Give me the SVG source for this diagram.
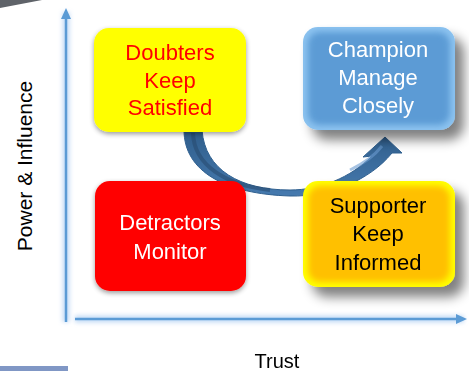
<svg xmlns="http://www.w3.org/2000/svg" width="469" height="371" viewBox="0 0 469 371">
<style>
.lbl{font-family:"Liberation Sans",Arial,sans-serif;font-size:22px;text-anchor:middle}
.axl{font-family:"Liberation Sans",Arial,sans-serif;font-size:20px;fill:#000;text-anchor:middle}
.axis{stroke:#5b9bd5;stroke-width:2.5;fill:none}
.glow{stroke:#a9cdf2;stroke-width:7;fill:none;opacity:0.7}
</style>
<defs>
<filter id="bigShadow" x="-20%" y="-20%" width="150%" height="160%">
<feGaussianBlur in="SourceAlpha" stdDeviation="6"/>
<feOffset dx="9" dy="10" result="b"/>
<feComponentTransfer><feFuncA type="linear" slope="0.5"/></feComponentTransfer>
<feMerge><feMergeNode/><feMergeNode in="SourceGraphic"/></feMerge>
</filter>
<filter id="smallShadow" x="-10%" y="-10%" width="125%" height="130%">
<feGaussianBlur in="SourceAlpha" stdDeviation="2.5"/>
<feOffset dx="0" dy="2" result="b"/>
<feComponentTransfer><feFuncA type="linear" slope="0.4"/></feComponentTransfer>
<feMerge><feMergeNode/><feMergeNode in="SourceGraphic"/></feMerge>
</filter>
<filter id="soft" x="-10%" y="-10%" width="120%" height="120%">
<feGaussianBlur stdDeviation="3"/>
</filter>
<filter id="blur2" x="-10%" y="-10%" width="120%" height="120%">
<feGaussianBlur stdDeviation="2"/>
</filter>
<linearGradient id="arrowGrad" x1="0" y1="0" x2="0" y2="1">
<stop offset="0" stop-color="#2f5d8a"/>
<stop offset="1" stop-color="#467aaf"/>
</linearGradient>
</defs>
<rect width="469" height="371" fill="#ffffff"/>
<polygon points="0,0 42,0 0,8" fill="#5f6369"/>
<rect x="0" y="366" width="68" height="5" fill="#8097c5"/>

<g id="connectors">
<g id="axes" filter="url(#blur2)">
<line class="glow" x1="66" y1="322" x2="66" y2="12"/>
<line class="glow" x1="75" y1="319" x2="464" y2="319"/>
</g>
<line class="axis" x1="66" y1="322" x2="66" y2="16"/>
<polygon points="66,8 61,19 71,19" fill="#5b9bd5"/>
<line class="axis" x1="75" y1="319" x2="458" y2="319"/>
<polygon points="467,319 456,314 456,324" fill="#5b9bd5"/>
<g id="curved-arrow">
<path d="M184,130 C184,172 226,194 290,196 C330,197 370,180 392,153 L402,153 L385,137 L363,157 L372,156 C350,178 320,190 290,190 C240,190 205,170 202,130 Z" fill="url(#arrowGrad)" stroke="#30608f" stroke-width="1"/>
<path d="M193,133 C194,165 225,185 270,190" fill="none" stroke="#26486d" stroke-width="4" opacity="0.55"/>
<path d="M350,170 C365,163 375,155 382,146" fill="none" stroke="#6b9bd0" stroke-width="3" opacity="0.6"/>
</g>
</g>

<g id="doubters">
<rect x="94" y="28" width="152" height="104" rx="15" fill="#ffff00" filter="url(#smallShadow)"/>
<text class="lbl" fill="#ff0000"><tspan x="170" y="60">Doubters</tspan><tspan x="170" y="88">Keep</tspan><tspan x="170" y="115">Satisfied</tspan></text>
</g>

<g id="champion">
<rect x="303" y="27" width="152" height="103" rx="15" fill="#8cc3f0" filter="url(#bigShadow)"/>
<rect x="308" y="32" width="142" height="93" rx="12" fill="#5b9bd5" filter="url(#soft)"/>
<text class="lbl" fill="#ffffff"><tspan x="378" y="57">Champion</tspan><tspan x="378" y="85">Manage</tspan><tspan x="378" y="113">Closely</tspan></text>
</g>

<g id="detractors">
<rect x="95" y="181" width="151" height="110" rx="15" fill="#ff0000" filter="url(#smallShadow)"/>
<text class="lbl" fill="#ffffff"><tspan x="170" y="230">Detractors</tspan><tspan x="170" y="259">Monitor</tspan></text>
</g>

<g id="supporter">
<rect x="303" y="181" width="152" height="106" rx="15" fill="#ffff00" filter="url(#bigShadow)"/>
<rect x="308" y="186" width="142" height="96" rx="12" fill="#ffc000" filter="url(#soft)"/>
<text class="lbl" fill="#000000"><tspan x="378" y="213">Supporter</tspan><tspan x="378" y="241">Keep</tspan><tspan x="378" y="270">Informed</tspan></text>
</g>

<text class="axl" x="277" y="368">Trust</text>
<text class="axl" transform="translate(32,166) rotate(-90)" x="0" y="0" style="font-size:21px">Power &amp; Influence</text>
</svg>
